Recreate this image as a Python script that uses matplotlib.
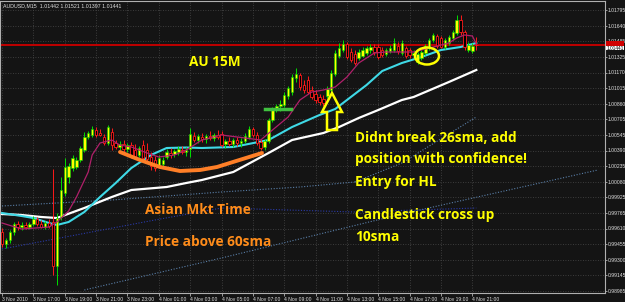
import matplotlib
matplotlib.use("Agg")
import matplotlib.pyplot as plt
from matplotlib.patches import Ellipse, Polygon, Rectangle
import numpy as np

# ---------------- data ----------------
opens = [0.99575,0.99455,0.99495,0.99575,0.99655,0.99625,0.99645,0.99625,0.99655,0.99705,
         0.99655,0.99625,0.99665,0.99675,0.99235,0.99725,0.99965,1.00125,1.00215,1.00225,
         1.00295,1.00395,1.00525,1.00545,1.00595,1.00565,1.00525,1.00465,1.00575,1.00465,
         1.00425,1.00455,1.00405,1.00445,1.00395,1.00345,1.00445,1.00395,1.00325,1.00295,
         1.00245,1.00255,1.00325,1.00365,1.00355,1.00375,1.00395,1.00375,1.00405,1.00535,
         1.00495,1.00525,1.00505,1.00535,1.00515,1.00545,1.00555,1.00455,1.00485,1.00455,
         1.00495,1.00465,1.00485,1.00525,1.00605,1.00545,1.00475,1.00425,1.00485,1.00695,
         1.00795,1.00835,1.00845,1.00935,1.00975,1.01115,1.01145,1.01045,1.01095,1.00995,
         1.00955,1.00925,1.00905,1.00935,1.00995,1.01155,1.01335,1.01395,1.01455,1.01375,
         1.01355,1.01315,1.01335,1.01365,1.01395,1.01425,1.01425,1.01395,1.01355,1.01385,
         1.01395,1.01435,1.01365,1.01415,1.01395,1.01345,1.01275,1.01315,1.01365,1.01415,
         1.01495,1.01535,1.01515,1.01425,1.01465,1.01515,1.01565,1.01695,1.01575,1.01395,
         1.01385,1.01442]
highs = [0.99615,0.99515,0.99595,0.99675,0.99685,0.99675,0.99675,0.99675,0.99735,0.99725,
         0.99695,0.99685,0.99705,1.00205,0.99765,1.00125,1.00315,1.00265,1.00345,1.00325,
         1.00435,1.00575,1.00585,1.00635,1.00625,1.00605,1.00555,1.00645,1.00615,1.00495,
         1.00485,1.00495,1.00465,1.00475,1.00455,1.00435,1.00495,1.00465,1.00375,1.00335,
         1.00345,1.00325,1.00405,1.00415,1.00405,1.00435,1.00435,1.00425,1.00615,1.00575,
         1.00555,1.00565,1.00555,1.00585,1.00565,1.00595,1.00585,1.00505,1.00525,1.00515,
         1.00525,1.00515,1.00565,1.00635,1.00625,1.00575,1.00505,1.00505,1.00715,1.00825,
         1.00855,1.00895,1.00975,1.01035,1.01155,1.01215,1.01165,1.01095,1.01135,1.01035,
         1.00995,1.00955,1.00945,1.01035,1.01195,1.01395,1.01465,1.01495,1.01475,1.01415,
         1.01395,1.01405,1.01425,1.01435,1.01455,1.01455,1.01455,1.01425,1.01415,1.01445,
         1.01515,1.01475,1.01495,1.01435,1.01415,1.01395,1.01375,1.01395,1.01455,1.01515,
         1.01565,1.01555,1.01535,1.01515,1.01545,1.01595,1.01745,1.01745,1.01595,1.01475,
         1.01465,1.01521]
lows = [0.99425,0.99415,0.99465,0.99545,0.99595,0.99595,0.99605,0.99605,0.99635,0.99635,
        0.99615,0.99605,0.99615,0.99145,0.99045,0.99695,0.99935,1.00065,1.00185,1.00205,
        1.00275,1.00375,1.00505,1.00525,1.00525,1.00535,1.00445,1.00445,1.00395,1.00405,
        1.00395,1.00375,1.00375,1.00315,1.00305,1.00325,1.00275,1.00285,1.00195,1.00185,
        1.00225,1.00235,1.00305,1.00315,1.00325,1.00345,1.00355,1.00335,1.00325,1.00475,
        1.00465,1.00475,1.00465,1.00495,1.00485,1.00505,1.00425,1.00415,1.00435,1.00425,
        1.00435,1.00425,1.00465,1.00505,1.00525,1.00445,1.00395,1.00395,1.00465,1.00675,
        1.00775,1.00785,1.00825,1.00905,1.00945,1.01075,1.00995,1.00965,1.00955,1.00905,
        1.00865,1.00845,1.00835,1.00915,1.00975,1.01135,1.01315,1.01375,1.01305,1.01275,
        1.01245,1.01295,1.01325,1.01345,1.01365,1.01345,1.01305,1.01325,1.01335,1.01365,
        1.01375,1.01355,1.01345,1.01315,1.01315,1.01305,1.01255,1.01295,1.01345,1.01395,
        1.01475,1.01415,1.01415,1.01405,1.01445,1.01495,1.01545,1.01545,1.01395,1.01375,
        1.01365,1.01397]
closes = [0.99455,0.99495,0.99575,0.99655,0.99625,0.99645,0.99625,0.99655,0.99705,0.99655,
          0.99625,0.99665,0.99635,0.99235,0.99715,0.99995,1.00225,1.00235,1.00315,1.00295,
          1.00415,1.00525,1.00565,1.00605,1.00545,1.00545,1.00465,1.00625,1.00445,1.00425,
          1.00455,1.00405,1.00445,1.00345,1.00325,1.00415,1.00315,1.00305,1.00235,1.00215,
          1.00315,1.00295,1.00375,1.00345,1.00385,1.00405,1.00375,1.00395,1.00555,1.00495,
          1.00535,1.00505,1.00535,1.00515,1.00545,1.00525,1.00445,1.00485,1.00455,1.00495,
          1.00465,1.00485,1.00535,1.00605,1.00545,1.00465,1.00415,1.00485,1.00695,1.00795,
          1.00835,1.00855,1.00945,1.01015,1.01125,1.01155,1.01025,1.00995,1.00975,1.00925,
          1.00895,1.00875,1.00865,1.01005,1.01165,1.01365,1.01415,1.01455,1.01325,1.01295,
          1.01265,1.01375,1.01395,1.01415,1.01425,1.01375,1.01325,1.01345,1.01395,1.01415,
          1.01465,1.01385,1.01465,1.01335,1.01345,1.01365,1.01355,1.01375,1.01435,1.01495,
          1.01545,1.01435,1.01425,1.01495,1.01525,1.01575,1.01695,1.01575,1.01425,1.01445,
          1.01435,1.01441]

# moving-average lines read at sample bars (bar index, price)
sma60_bars   = [0, 5, 10, 14, 21, 28, 33, 42, 47, 51, 59, 68, 74, 82, 86, 91, 96, 102, 105, 114, 121]
sma60_vals   = [0.99755,0.99745,0.99725,0.99715,0.99815,0.99925,0.99995,1.00025,1.00065,1.00095,
                1.00175,1.00365,1.00495,1.00565,1.00625,1.00715,1.00795,1.00895,1.00925,1.01075,1.01195]
sma26_bars   = [0, 5, 8, 12, 14, 17, 21, 25, 29, 33, 38, 42, 47, 51, 59, 68, 74, 81, 85, 88, 93, 97, 102, 107, 112, 117, 121]
sma26_vals   = [0.99765,0.99735,0.99715,0.99665,0.99645,0.99675,0.99775,0.99925,1.00065,1.00215,
                1.00345,1.00415,1.00420,1.00415,1.00425,1.00495,1.00625,1.00745,1.00805,1.00895,
                1.01045,1.01185,1.01265,1.01325,1.01395,1.01425,1.01465]
sma10_bars   = [0, 5, 12, 14, 17, 19, 22, 23, 25, 28, 30, 33, 37, 40, 44, 47, 51, 56, 62, 66, 69, 73,
                76, 79, 82, 85, 88, 91, 95, 98, 105, 109, 114, 116, 118, 120, 121]
sma10_vals   = [0.99665,0.99605,0.99625,0.99675,0.99785,0.99925,1.00175,1.00345,1.00465,1.00495,
                1.00445,1.00425,1.00365,1.00325,1.00345,1.00395,1.00495,1.00545,1.00515,1.00495,
                1.00595,1.00725,1.00895,1.00975,1.00995,1.01025,1.01125,1.01265,1.01365,1.01375,
                1.01375,1.01415,1.01465,1.01515,1.01545,1.01535,1.01455]
dotA_bars = [0, 28, 56, 76, 90]
dotA_vals = [0.99835, 0.99895, 0.99975, 1.00025, 1.00075]
dotB_bars = [0, 39, 56, 90, 121]
dotB_vals = [0.99405, 0.99695, 0.99815, 0.99775, 0.99815]
dotC_bars = [21, 56, 102, 152]
dotC_vals = [0.98995, 0.99315, 0.99755, 1.00195]
dotD_bars = [90, 102, 121]
dotD_vals = [1.00075, 1.00265, 1.00725]

last_price = 1.01441
xtick_bars = list(range(0, 121, 8))
xtick_labels = ["3 Nov 2010", "3 Nov 17:00", "3 Nov 19:00", "3 Nov 21:00", "3 Nov 23:00",
                "4 Nov 01:00", "4 Nov 03:00", "4 Nov 05:00", "4 Nov 07:00", "4 Nov 09:00",
                "4 Nov 11:00", "4 Nov 13:00", "4 Nov 15:00", "4 Nov 17:00", "4 Nov 19:00",
                "4 Nov 21:00"]
ytick_vals = [1.01795, 1.01640, 1.01485, 1.01325, 1.01170, 1.01015, 1.00860, 1.00705, 1.00545,
              1.00390, 1.00235, 1.00080, 0.99925, 0.99765, 0.99610, 0.99455, 0.99300, 0.99145, 0.98985]
header = "AUDUSD,M15  1.01442 1.01521 1.01397 1.01441"

# ---------------- figure ----------------
W, H = 625, 302
BG = "#141414"
SMALL = "Liberation Sans"
fig = plt.figure(figsize=(W / 100, H / 100), dpi=100, facecolor=BG)
ax = fig.add_axes([0 / W, 9 / H, 605 / W, 292 / H])
ax.set_facecolor(BG)
ax.set_xlim(-0.51, 153.83)
ax.set_ylim(0.98965, 1.01885)

def P(x, y):
    """pixel position -> data coords (for annotations)"""
    return ((x - 2) / 3.92, 1.01895 - y / 10000.0)

# grid
for b in xtick_bars:
    ax.axvline(b, color="#4a4a4a", lw=0.6, ls=(0, (1, 2)), zorder=0)
for v in ytick_vals:
    ax.axhline(v, color="#4a4a4a", lw=0.6, ls=(0, (1, 2)), zorder=0)

# dotted long lines
ax.plot(dotA_bars, dotA_vals, color="#5a7fa8", lw=0.8, ls=(0, (1, 1.5)), zorder=1)
ax.plot(dotB_bars, dotB_vals, color="#2a3aa8", lw=0.8, ls=(0, (1, 1.5)), zorder=1)
ax.plot(dotC_bars, dotC_vals, color="#5a7fa8", lw=0.8, ls=(0, (1, 1.5)), zorder=1)
ax.plot(dotD_bars, dotD_vals, color="#5a7fa8", lw=0.8, ls=(0, (1, 1.5)), zorder=1)

# price line
ax.axhline(last_price, color="#c00000", lw=1.4, zorder=2)

# moving averages
ax.plot(sma60_bars, sma60_vals, color="#ffffff", lw=1.6, zorder=3)
ax.plot(sma26_bars, sma26_vals, color="#3fd9e6", lw=1.5, zorder=3)
ax.plot(sma10_bars, sma10_vals, color="#b0206a", lw=0.9, zorder=5)

# candles
o = np.array(opens); h = np.array(highs); l = np.array(lows); c = np.array(closes)
idx = np.arange(len(o))
up = c >= o
ax.vlines(idx[up], l[up], h[up], color="#00e000", lw=0.7, zorder=4)
ax.vlines(idx[~up], l[~up], h[~up], color="#ff1a1a", lw=0.7, zorder=4)
bw = 0.62
for i in idx:
    lo, hi = min(o[i], c[i]), max(o[i], c[i])
    hgt = max(hi - lo, 0.00004)
    if up[i]:
        ax.add_patch(Rectangle((i - bw / 2, lo), bw, hgt, facecolor="#ffff00",
                               edgecolor="#00d000", lw=0.4, zorder=4.5))
    else:
        ax.add_patch(Rectangle((i - bw / 2, lo), bw, hgt, facecolor="#000000",
                               edgecolor="#ff1a1a", lw=0.6, zorder=4.5))

# ---------------- annotations ----------------
orange_px = [(120, 152), (140, 160), (160, 167), (180, 171), (200, 170), (217, 167), (233, 162), (262, 153)]
ox, oy = zip(*[P(*p) for p in orange_px])
ax.plot(ox, oy, color="#ff7f27", lw=2.8, solid_capstyle="round", zorder=6)

gx, gy = zip(*[P(265, 108.5), P(291, 108.5)])
ax.plot(gx, gy, color="#40c040", lw=2.5, zorder=6)

arrow_px = [(332, 93), (342, 112), (337, 112), (337, 130), (327, 130), (327, 112), (322, 112)]
ax.add_patch(Polygon([P(*p) for p in arrow_px], closed=True, fill=False,
                     edgecolor="#ffff00", lw=1.8, zorder=7))

ex, ey = P(427, 56)
ax.add_patch(Ellipse((ex, ey), 24 / 3.92, 17 / 10000.0, fill=False,
                     edgecolor="#ffff00", lw=1.8, zorder=7))

def T(x, y, s, color):
    fig.text(x / W, 1 - y / H, s, color=color, fontsize=9.8, fontweight="bold",
             family="Open Sans", va="center", ha="left")

T(189, 62, "AU 15M", "#ffff00")
T(355, 138, "Didnt break 26sma, add", "#ffff00")
T(355, 159, "position with confidence!", "#ffff00")
T(355, 182, "Entry for HL", "#ffff00")
T(355, 215, "Candlestick cross up", "#ffff00")
T(355, 237, "10sma", "#ffff00")
T(145, 210, "Asian Mkt Time", "#ff8c1a")
T(145, 242, "Price above 60sma", "#ff8c1a")

fig.text(3 / W, 1 - 6 / H, header, color="#e0e0e0", fontsize=3.8, family=SMALL,
         va="center", ha="left")

# ---------------- axes styling ----------------
for s in ax.spines.values():
    s.set_color("#b0b0b0")
    s.set_linewidth(0.8)
ax.set_xticks(xtick_bars)
ax.set_xticklabels(xtick_labels, ha="left", fontsize=3.6, color="#e0e0e0", family=SMALL)
ax.tick_params(axis="x", length=2, width=0.6, color="#b0b0b0", pad=1)
ax.yaxis.tick_right()
ax.set_yticks(ytick_vals)
ax.set_yticklabels([f"{v:.5f}" for v in ytick_vals], fontsize=3.6, color="#e0e0e0", family=SMALL)
ax.tick_params(axis="y", length=1.5, width=0.6, color="#b0b0b0", pad=0.5)

# current price tag
yl = ax.transData.transform((0, last_price))[1]
tag_y = 1 - (H - yl) / H
fig.patches.append(Rectangle((606 / W, tag_y - 0.5 / H), 18 / W, 4.5 / H, transform=fig.transFigure,
                             facecolor="#d00000", edgecolor="none"))
fig.patches.append(Rectangle((606 / W, tag_y - 5 / H), 18 / W, 4.5 / H, transform=fig.transFigure,
                             facecolor="#ffffff", edgecolor="none"))
fig.text(607 / W, tag_y - 2.7 / H, f"{last_price:.5f}", fontsize=3.4, color="#000000",
         family=SMALL, va="center", ha="left")

fig.savefig("out.png", dpi=100, facecolor=BG)
